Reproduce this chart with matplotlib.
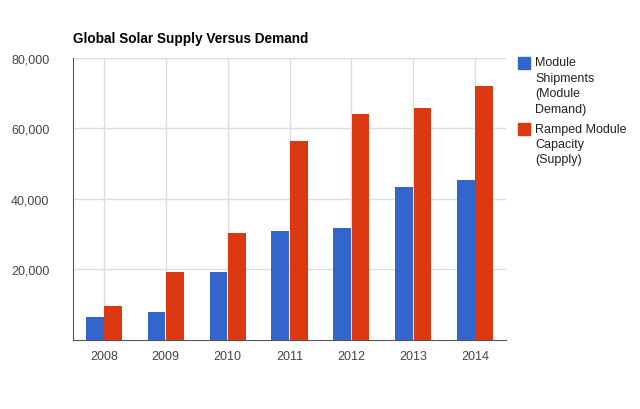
import numpy as np
import matplotlib
matplotlib.use("Agg")
import matplotlib.pyplot as plt
from matplotlib.patches import Rectangle

plt.rcParams['font.family'] = ['Liberation Sans', 'DejaVu Sans']

# datos
years = ['2008', '2009', '2010', '2011', '2012', '2013', '2014']
shipments = [6400, 8000, 19400, 30800, 31700, 43300, 45400]
capacity = [9700, 19200, 30300, 56400, 64100, 65800, 71900]
series_names = ['Module\nShipments\n(Module\nDemand)', 'Ramped Module\nCapacity\n(Supply)']
yticks = [20000, 40000, 60000, 80000]

azul = '#3366cc'
rojo = '#dc3912'

fig = plt.figure(figsize=(6.4, 4.1), dpi=100)
ax = fig.add_axes([73/640, 1 - 341/410, (506 - 73)/640, (341 - 58.7)/410])

x = np.arange(len(years))
w = 0.285
ax.bar(x - w/2 - 0.006, shipments, w, color=azul, zorder=3)
ax.bar(x + w/2 + 0.006, capacity, w, color=rojo, zorder=3)

ax.set_xlim(-0.5, len(years) - 0.5)
ax.set_ylim(0, 80000)
ax.set_yticks(yticks)
ax.set_yticklabels([f'{v:,}' for v in yticks])
ax.set_xticks(x)
ax.set_xticklabels(years)

# grilla estilo google charts
ax.grid(True, color='#dddddd', linewidth=1, zorder=0)
ax.tick_params(axis='both', length=0, labelsize=9, labelcolor='#444444')
ax.tick_params(axis='y', pad=17)
ax.tick_params(axis='x', pad=7)
for lado in ['top', 'right']:
    ax.spines[lado].set_visible(False)
ax.spines['left'].set_color('#555555')
ax.spines['bottom'].set_color('#555555')

fig.text(73/640, 1 - 43/410, 'Global Solar Supply Versus Demand',
         fontsize=9.8, fontweight='bold', color='#000000', va='baseline')

# leyenda a mano, cuadrado arriba del texto
leg_tops = [58, 124]
for nombre, color, top in zip(series_names, [azul, rojo], leg_tops):
    fig.patches.append(Rectangle((518/640, 1 - (top + 12)/410), 12/640, 12/410,
                                 transform=fig.transFigure, color=color))
    fig.text(535/640, 1 - (top - 0.5)/410, nombre, fontsize=9, color='#222222',
             va='top', ha='left', linespacing=1.38)

fig.savefig('out.png', dpi=100)
